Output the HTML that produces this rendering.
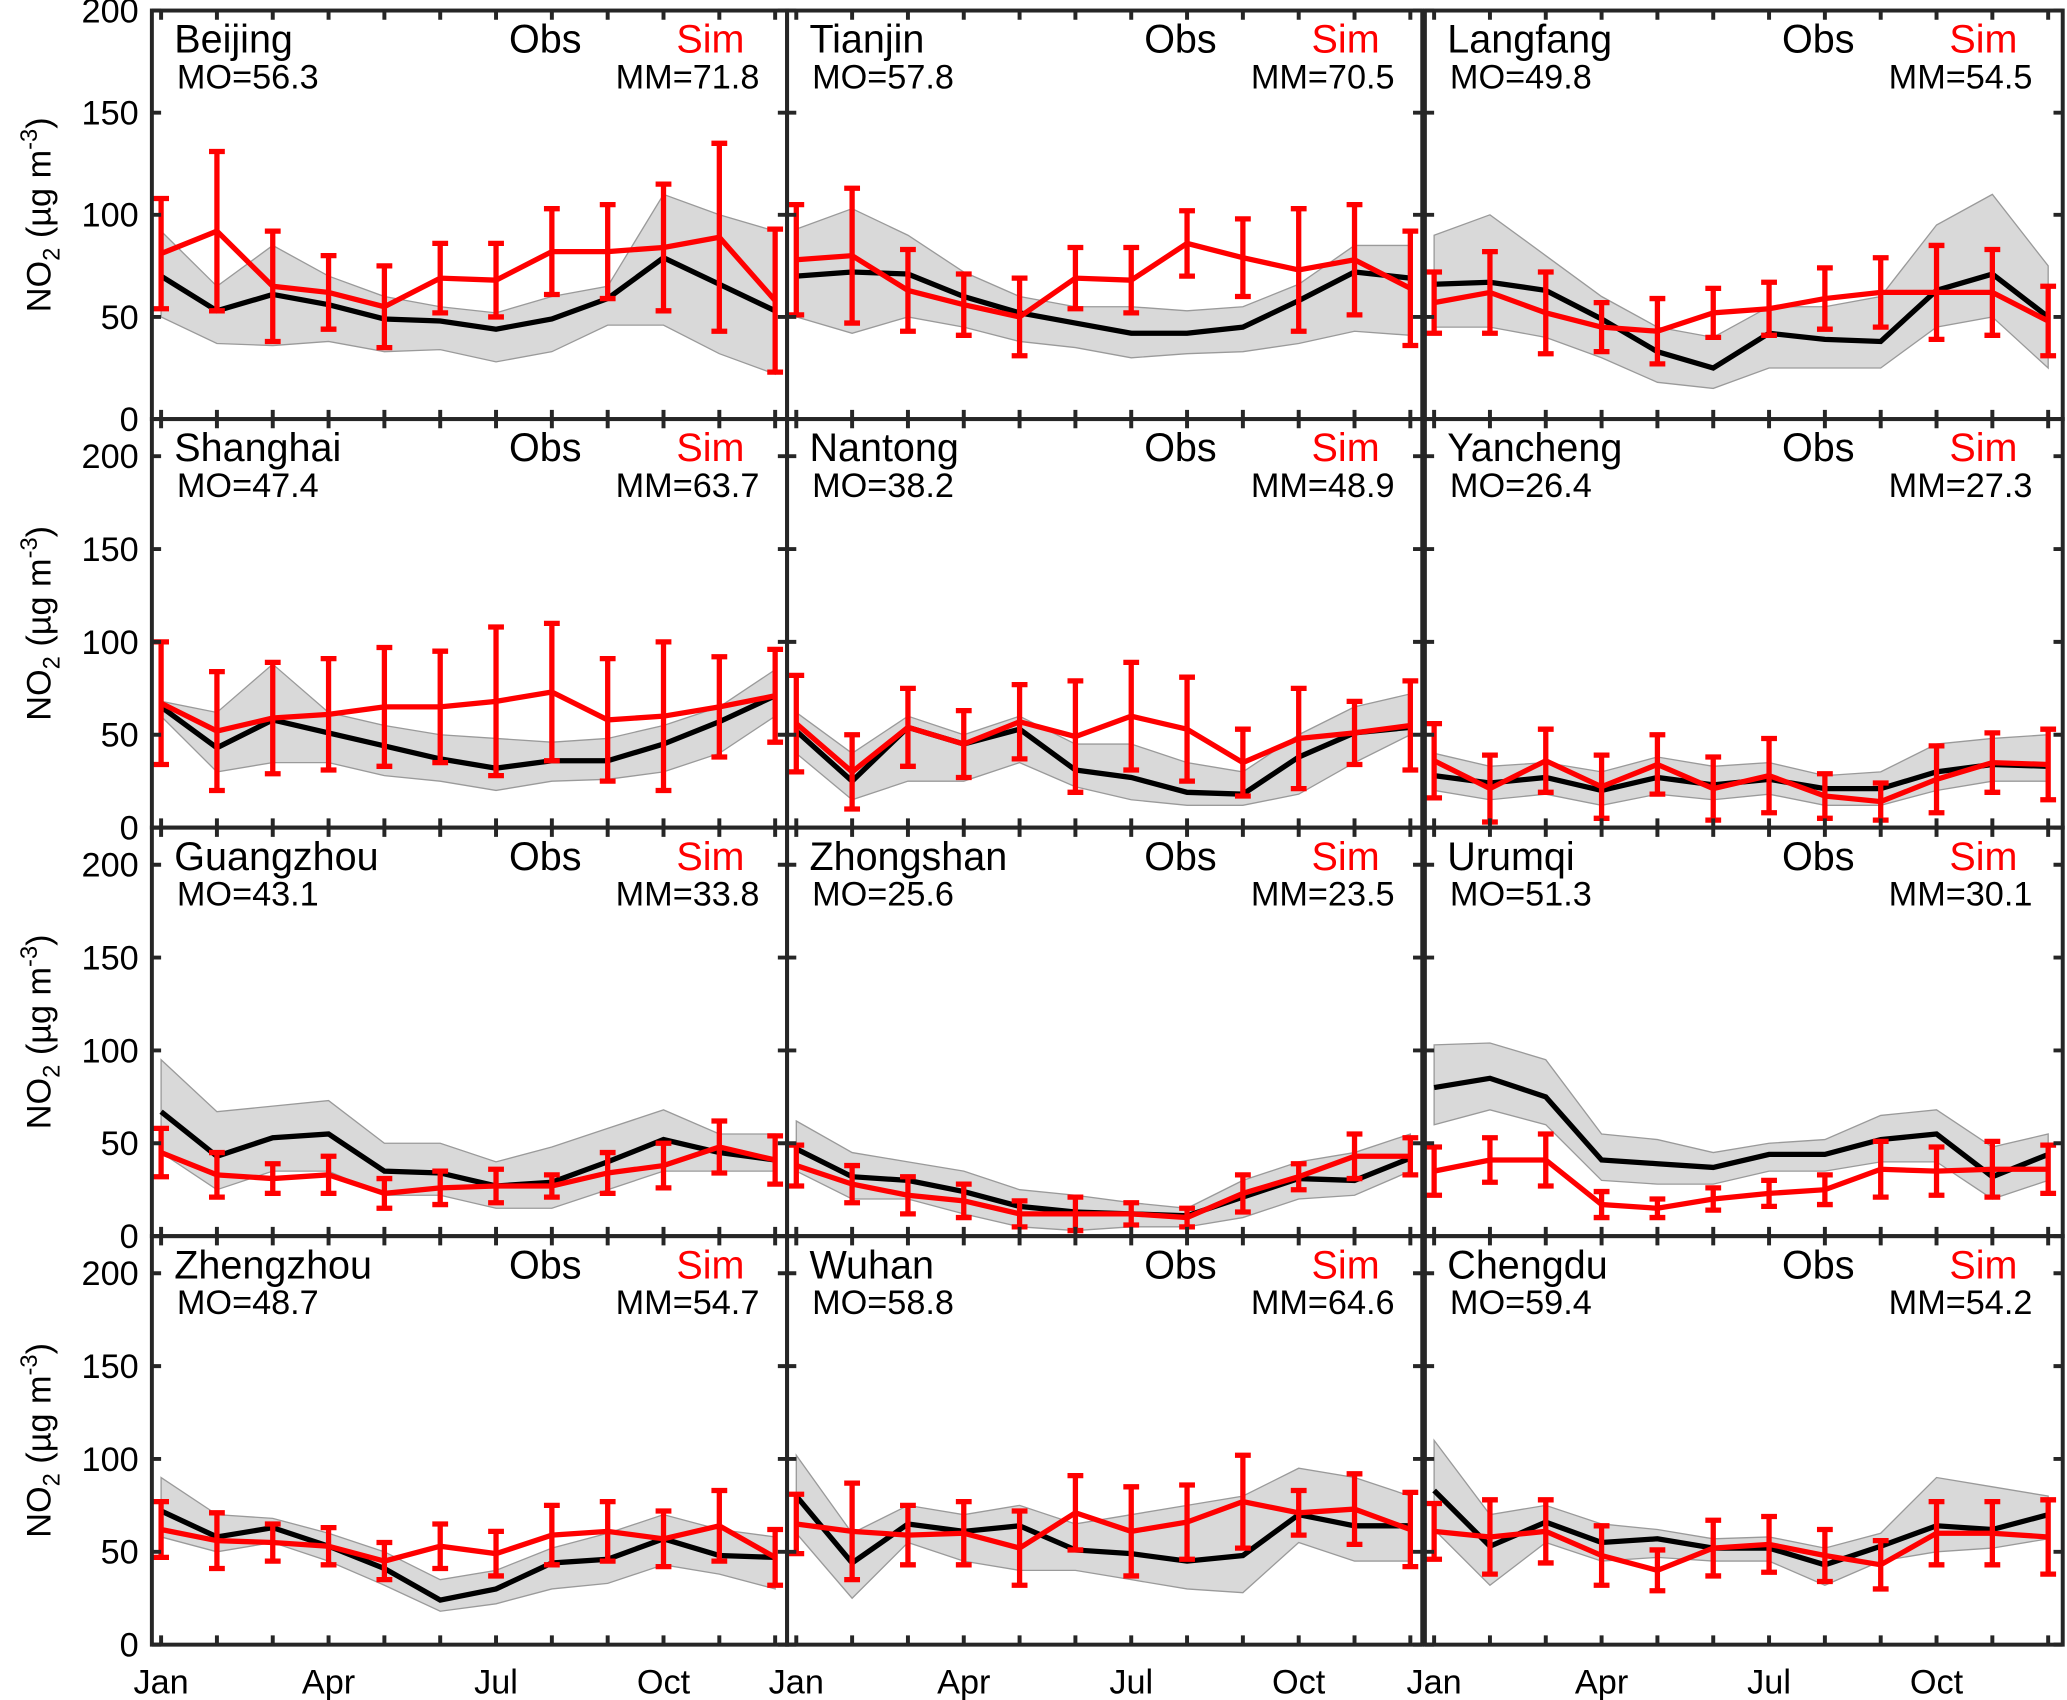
<!DOCTYPE html>
<html><head><meta charset="utf-8"><style>
html,body{margin:0;padding:0;background:#fff;}
svg{display:block;font-family:"Liberation Sans",Arial,sans-serif;}
</style></head><body>
<svg id="chart" width="2067" height="1700" viewBox="0 0 1568 1290" xmlns="http://www.w3.org/2000/svg"></svg>
<script>
const months = ["Jan","Feb","Mar","Apr","May","Jun","Jul","Aug","Sep","Oct","Nov","Dec"];
const cities = ["Beijing","Tianjin","Langfang","Shanghai","Nantong","Yancheng","Guangzhou","Zhongshan","Urumqi","Zhengzhou","Wuhan","Chengdu"];
const moValues = ["56.3","57.8","49.8","47.4","38.2","26.4","43.1","25.6","51.3","48.7","58.8","59.4"];
const mmValues = ["71.8","70.5","54.5","63.7","48.9","27.3","33.8","23.5","30.1","54.7","64.6","54.2"];
const obs = [
[70,53,61,56,49,48,44,49,59,79,66,53],
[70,72,71,60,52,47,42,42,45,58,72,69],
[66,67,63,49,33,25,42,39,38,63,71,50],
[65,43,58,51,44,37,32,36,36,45,57,71],
[52,25,54,45,53,31,27,19,18,38,51,54],
[28,24,27,20,27,23,26,21,21,30,34,33],
[67,43,53,55,35,34,27,29,40,52,45,41],
[47,32,30,24,16,13,12,11,21,31,30,42],
[80,85,75,41,39,37,44,44,52,55,32,44],
[72,58,63,53,41,24,30,44,46,57,48,47],
[80,44,65,61,64,51,49,45,48,70,64,64],
[83,53,66,55,57,52,52,43,53,64,62,70]];
const obsHi = [
[92,65,85,70,60,55,52,60,65,110,100,92],
[93,103,90,72,60,55,55,53,55,66,85,85],
[90,100,80,60,45,40,55,55,60,95,110,75],
[68,62,88,62,55,50,48,46,48,55,65,85],
[62,40,60,50,60,45,45,35,30,50,65,72],
[40,33,35,30,38,33,35,28,30,45,48,50],
[95,67,70,73,50,50,40,48,58,68,55,55],
[62,45,40,35,25,22,18,15,30,40,45,55],
[103,104,95,55,52,45,50,52,65,68,48,55],
[90,70,68,60,50,35,40,52,60,70,62,58],
[102,60,75,70,75,65,70,75,80,95,90,80],
[110,70,75,65,62,57,58,52,60,90,85,80]];
const obsLo = [
[50,37,36,38,33,34,28,33,46,46,32,22],
[50,42,50,45,38,35,30,32,33,37,43,41],
[45,45,40,30,18,15,25,25,25,45,50,25],
[60,30,35,35,28,25,20,25,26,30,40,60],
[40,15,25,25,35,22,15,12,12,18,35,50],
[20,15,18,12,18,15,18,12,12,20,25,25],
[45,25,35,35,22,22,15,15,25,35,35,35],
[35,20,20,12,5,3,5,5,10,20,22,35],
[60,68,60,30,28,28,35,35,40,40,20,30],
[58,50,55,45,32,18,22,30,33,43,38,30],
[60,25,55,45,40,40,35,30,28,55,45,45],
[62,32,55,45,47,45,45,32,45,50,52,57]];
const sim = [
[81,92,65,62,55,69,68,82,82,84,89,58],
[78,80,63,56,50,69,68,86,79,73,78,64],
[57,62,52,45,43,52,54,59,62,62,62,48],
[67,52,59,61,65,65,68,73,58,60,65,71],
[56,30,54,45,57,49,60,53,35,48,51,55],
[36,21,36,22,34,21,28,17,14,26,35,34],
[45,33,31,33,23,26,27,27,34,38,48,41],
[38,28,22,19,12,12,12,10,23,32,43,43],
[35,41,41,17,15,20,23,25,36,35,36,36],
[62,56,55,53,45,53,49,59,61,57,64,47],
[65,61,59,60,52,71,61,66,77,71,73,62],
[61,58,61,48,40,52,54,48,43,60,60,58]];
const simErr = [
[27,39,27,18,20,17,18,21,23,31,46,35],
[27,33,20,15,19,15,16,16,19,30,27,28],
[15,20,20,12,16,12,13,15,17,23,21,17],
[33,32,30,30,32,30,40,37,33,40,27,25],
[26,20,21,18,20,30,29,28,18,27,17,24],
[20,18,17,17,16,17,20,12,10,18,16,19],
[13,12,8,10,8,9,9,6,11,12,14,13],
[11,10,10,9,7,9,6,5,10,7,12,10],
[13,12,14,7,5,6,7,8,15,13,15,13],
[15,15,10,10,10,12,12,16,16,15,19,15],
[16,26,16,17,20,20,24,20,25,12,19,20],
[15,20,17,16,11,15,15,14,13,17,17,20]];
const yTicks = [0,50,100,150,200];
const xTickLabels = ["Jan","Apr","Jul","Oct"];

const NS="http://www.w3.org/2000/svg";
const svg=document.getElementById('chart');
function mk(tag,attrs,parent){const e=document.createElementNS(NS,tag);for(const k in attrs)e.setAttribute(k,attrs[k]);(parent||svg).appendChild(e);return e;}
const colL=[115,597,1081], rowT=[8,318,628,938], rowH=310;
const mW=42.36;
for(let p=0;p<12;p++){
  const c=p%3,r=Math.floor(p/3);
  const L=colL[c],T=rowT[r],B=T+rowH,R=L+(c==2?484:482);
  const ymax=r==0?200:220;
  const X=i=>L+7+i*mW;
  const Y=v=>B-v/ymax*rowH;
  const g=mk('g',{});
  
  
  let pts=[];
  for(let i=0;i<12;i++)pts.push(X(i)+','+Y(obsHi[p][i]));
  for(let i=11;i>=0;i--)pts.push(X(i)+','+Y(obsLo[p][i]));
  const band=mk('polygon',{points:pts.join(' '),fill:'#d9d9d9',stroke:'#9a9a9a','stroke-width':1},g);
  
  
  const ol=mk('polyline',{points:obs[p].map((v,i)=>X(i)+','+Y(v)).join(' '),fill:'none',stroke:'#000','stroke-width':4},g);
  
  
  const sl=mk('polyline',{points:sim[p].map((v,i)=>X(i)+','+Y(v)).join(' '),fill:'none',stroke:'#f00','stroke-width':4},g);
  
  
  for(let i=0;i<12;i++){
    const x=X(i),y1=Y(sim[p][i]+simErr[p][i]),y2=Y(Math.max(0,sim[p][i]-simErr[p][i]));
    const eb=mk('path',{d:`M${x},${y1}V${y2}M${x-6},${y1}H${x+6}M${x-6},${y2}H${x+6}`,stroke:'#f00','stroke-width':4,fill:'none'},g);
    
    
  }
  let td='';
  for(let i=0;i<12;i++){td+=`M${X(i)},${B}v-7M${X(i)},${T}v7`;}
  yTicks.forEach(v=>{td+=`M${L},${Y(v)}h7M${R},${Y(v)}h-7`;});
  mk('path',{d:td,stroke:'#262626','stroke-width':3,fill:'none'},g);
  const fr=mk('rect',{x:L,y:T,width:R-L,height:rowH,fill:'none',stroke:'#262626','stroke-width':3},g);
  
  
  const t=mk('text',{x:L+17,y:T+32,'font-size':30},g);t.textContent=cities[p];
  
  
  const o=mk('text',{x:L+271,y:T+32,'font-size':30},g);o.textContent='Obs';
  
  
  const s=mk('text',{x:L+398,y:T+32,'font-size':30,fill:'#f00'},g);s.textContent='Sim';
  
  
  const mo=mk('text',{x:L+19,y:T+59,'font-size':26},g);mo.textContent='MO='+moValues[p];
  
  
  const mm=mk('text',{x:L+461,y:T+59,'font-size':26,'text-anchor':'end'},g);mm.textContent='MM='+mmValues[p];
  
  
  if(c==0){
    yTicks.forEach(v=>{const tl=mk('text',{x:L-10,y:Y(v)+9,'font-size':26,'text-anchor':'end'});tl.textContent=v;
      
      });
    const cy=T+rowH/2;
    const yl=mk('text',{x:0,y:0,'font-size':26,'text-anchor':'middle',transform:`translate(38,${cy}) rotate(-90)`});
    yl.innerHTML='NO<tspan font-size="18" dy="7">2</tspan><tspan dy="-7"> (µg m</tspan><tspan font-size="18" dy="-10">-3</tspan><tspan dy="10">)</tspan>';
    
    
  }
  if(r==3){
    xTickLabels.forEach(m=>{const i=months.indexOf(m);const xl=mk('text',{x:X(i),y:1285,'font-size':26,'text-anchor':'middle'});xl.textContent=m;
      
      });
  }
}
</script>
</body></html>
